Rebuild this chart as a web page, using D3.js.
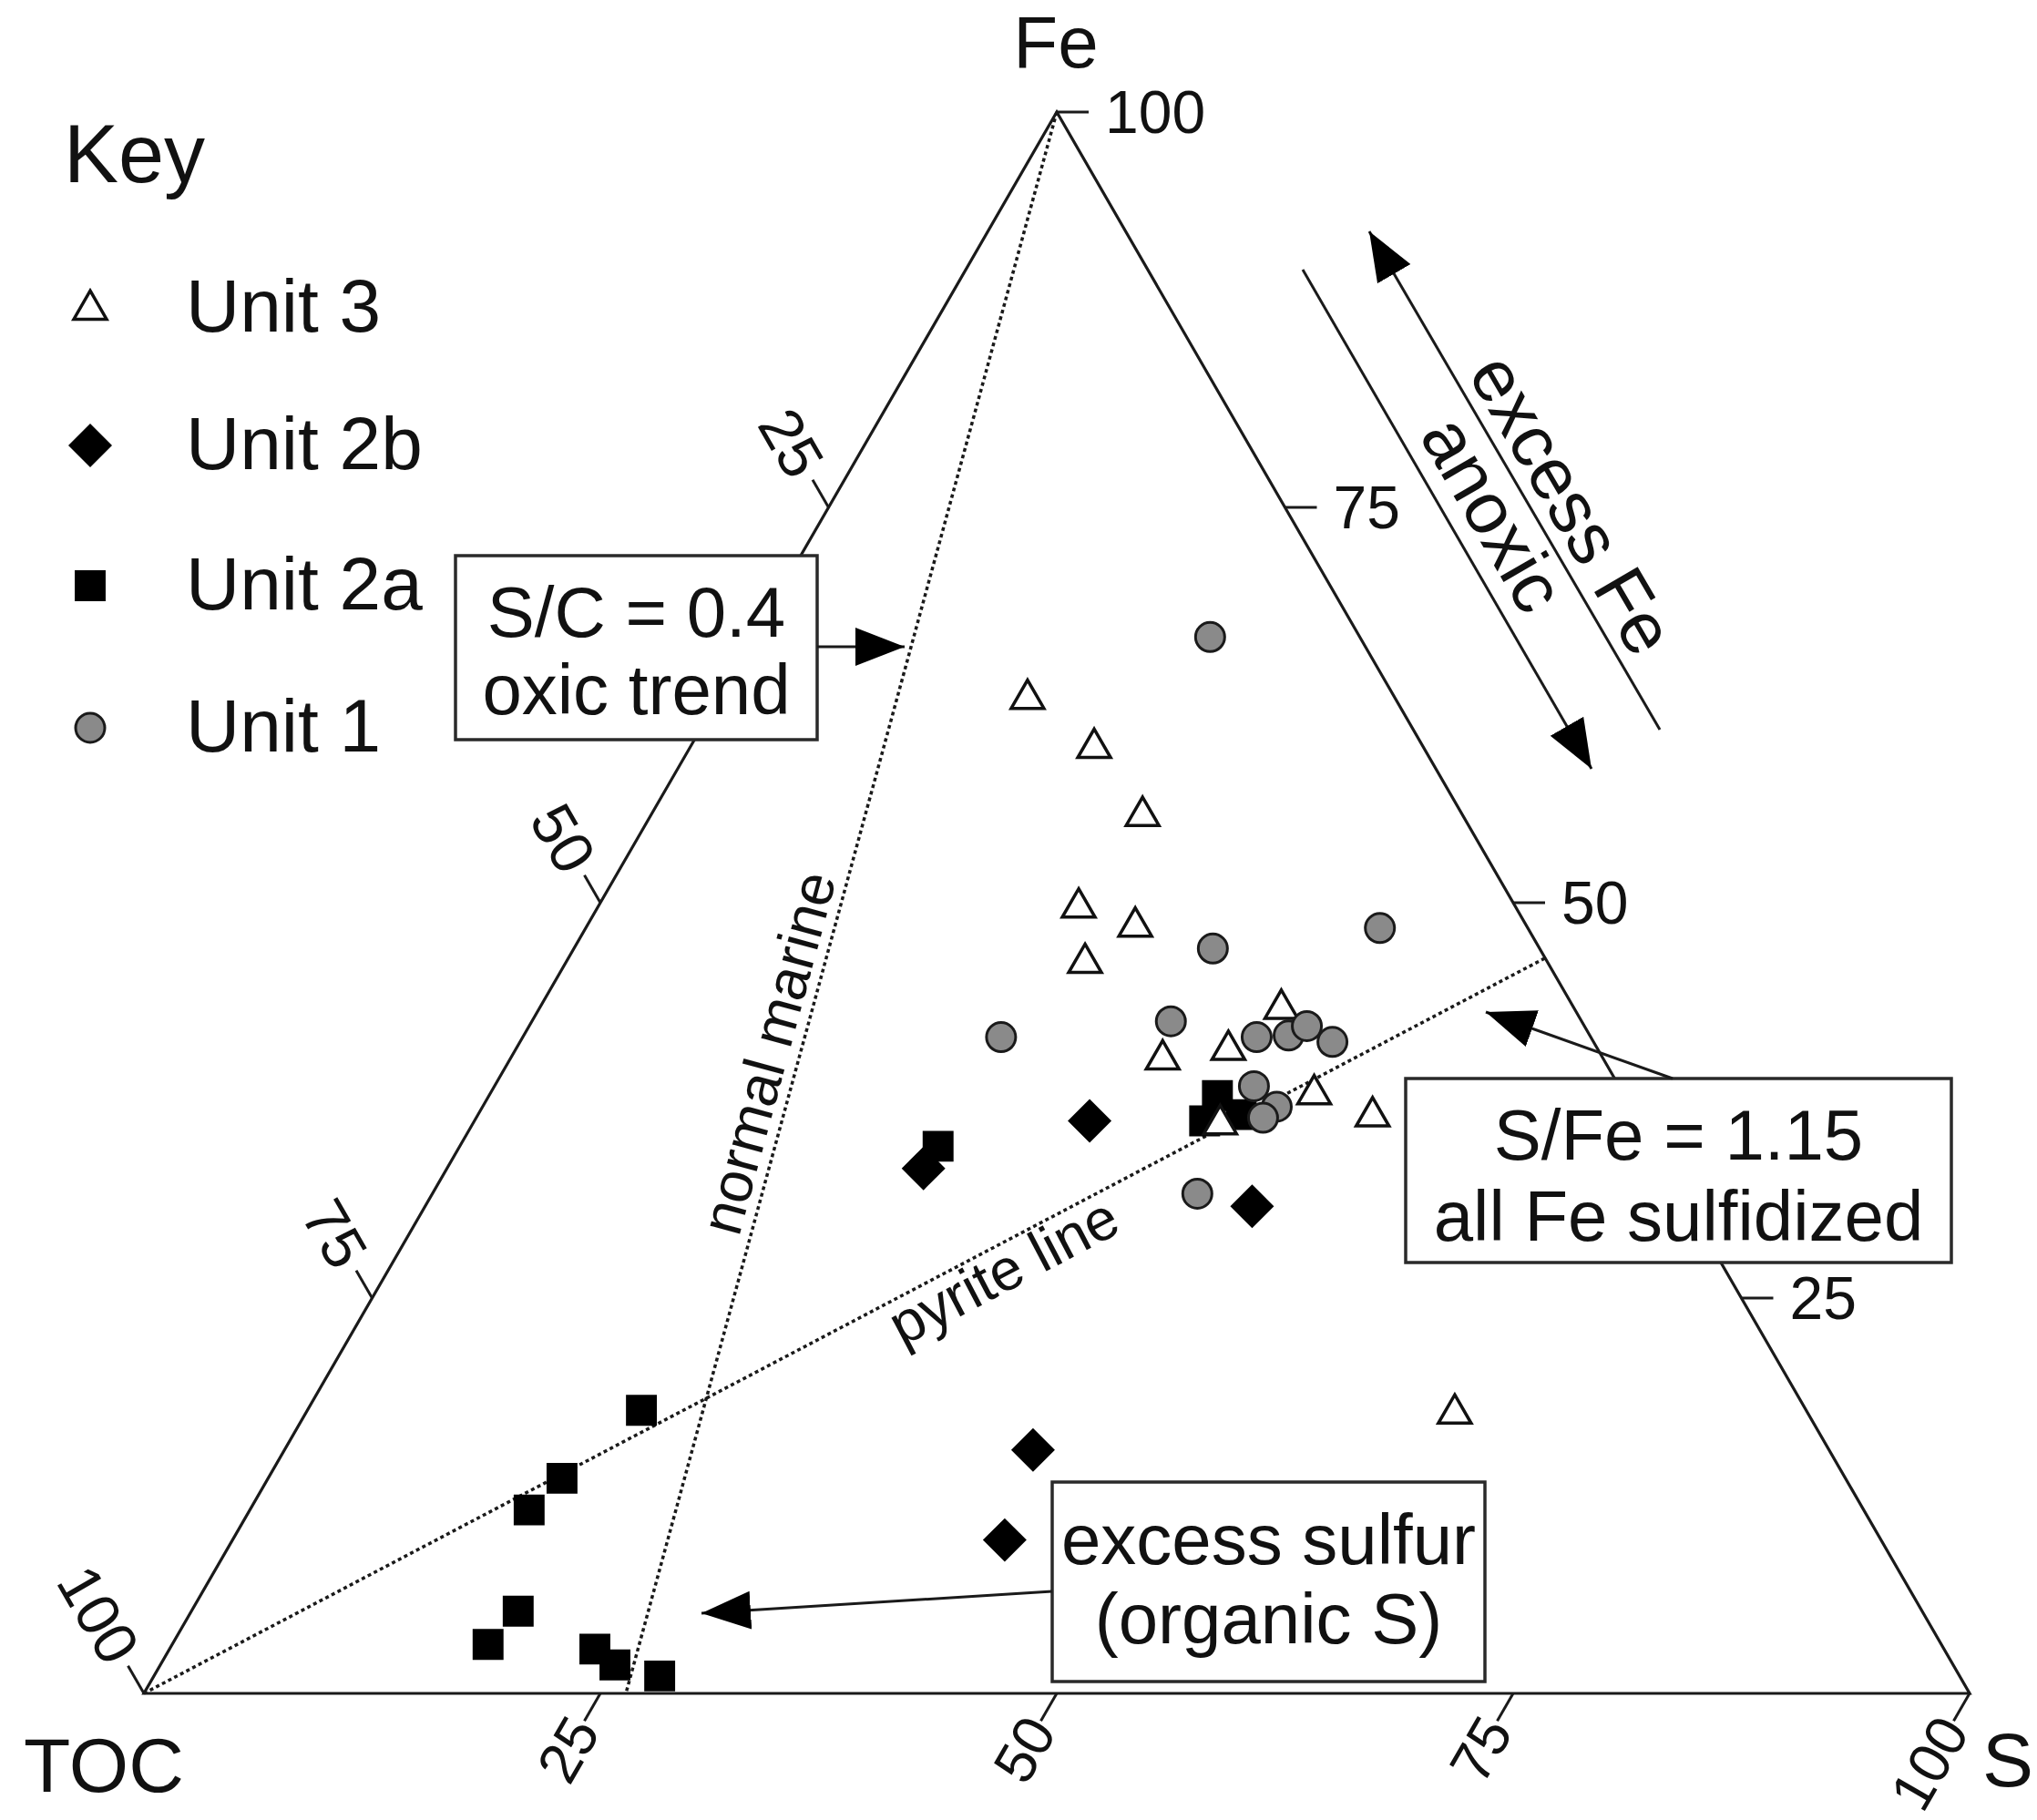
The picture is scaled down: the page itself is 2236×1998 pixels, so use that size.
<!DOCTYPE html>
<html><head><meta charset="utf-8">
<script src="https://cdn.jsdelivr.net/npm/d3@7"></script>
<style>
body{margin:0;background:#fff}
svg{display:block}
text{font-family:"Liberation Sans",Arial,Helvetica,sans-serif;fill:#111}
</style>
</head><body>
<svg id="chart" width="2236" height="1998"></svg>
<script>
// ---- data: compositions as [TOC, S, Fe] in percent ----
const unit3 = [[20.1,16.9,63.0],[18.0,22.1,59.9],[17.5,26.9,55.6],[23.9,26.3,49.8],[21.4,30.0,48.6],
  [25.3,28.4,46.3],[16.0,40.6,43.4],[24.1,35.7,40.2],[20.2,39.0,40.8],[16.9,45.1,38.0],
  [14.4,49.0,36.6],[23.0,40.9,36.1],[19.3,62.9,17.8]];
const unit2b = [[30.1,33.7,36.2],[23.9,45.3,30.8],[43.6,41.0,15.4],[48.0,42.3,9.7],[40.7,26.1,33.2]];
const unit2a = [[63.8,18.3,17.9],[70.3,16.1,13.6],[73.1,15.3,11.6],[76.9,17.9,5.2],[79.6,17.3,3.1],
  [73.9,23.3,2.8],[73.3,24.9,1.8],[71.2,27.7,1.1],[39.2,26.2,34.6],[22.3,39.9,37.8],
  [23.8,40.0,36.2],[21.6,41.8,36.6]];
const unit1 = [[8.2,25.0,66.8],[8.1,43.5,48.4],[17.9,35.0,47.1],[32.3,26.2,41.5],[22.5,35.0,42.5],
  [18.3,40.2,41.5],[16.5,41.9,41.6],[15.2,42.6,42.2],[14.3,44.5,41.2],[20.0,41.6,38.4],
  [19.4,43.5,37.1],[20.5,43.1,36.4],[26.5,41.9,31.6]];
const pyriteLine = [[100,0,0],[0,53.5,46.5]];      // S/Fe = 1.15
const normalMarine = [[0,0,100],[73.6,26.4,0]];    // S/C = 0.4
const tickValues = [25,50,75,100];
const vertexLabels = ["TOC","S","Fe"];
const legendItems = ["Unit 3","Unit 2b","Unit 2a","Unit 1"];

// ---- scales (ternary projection) ----
const X0 = 158, X1 = 2162, Y0 = 1859, Y1 = 123;
const sx = d3.scaleLinear().domain([0,100]).range([X0,X1]);
const sy = d3.scaleLinear().domain([0,100]).range([Y0,Y1]);
function proj(d){
  const tot = d[0]+d[1]+d[2];
  const s = d[1]/tot*100, f = d[2]/tot*100;
  return [sx(s + f/2), sy(f)];
}

const svg = d3.select("#chart");
const ink = "#1a1a1a";

// triangle frame
const corners = [[100,0,0],[0,100,0],[0,0,100]].map(proj);
svg.append("path").attr("d", d3.line()(corners)+"Z")
  .attr("fill","none").attr("stroke",ink).attr("stroke-width",3.2).attr("stroke-linejoin","miter");

// ticks and labels
const T = 35;
const axes = [
  {pt:v=>[100-v,v,0], dir:[-0.5,0.866], rot:-60, anchor:"end", gap:1},   // S along bottom
  {pt:v=>[0,100-v,v], dir:[1,0], rot:0, anchor:"start", gap:18},         // Fe along right
  {pt:v=>[v,0,100-v], dir:[-0.5,-0.866], rot:60, anchor:"end", gap:10}   // TOC along left
];
axes.forEach(ax=>{
  tickValues.forEach(v=>{
    const p = proj(ax.pt(v));
    const e = [p[0]+ax.dir[0]*T, p[1]+ax.dir[1]*T];
    svg.append("line").attr("x1",p[0]).attr("y1",p[1]).attr("x2",e[0]).attr("y2",e[1])
      .attr("stroke",ink).attr("stroke-width",3);
    const lp = [e[0]+ax.dir[0]*ax.gap, e[1]+ax.dir[1]*ax.gap];
    svg.append("text").attr("transform",`translate(${lp[0]},${lp[1]}) rotate(${ax.rot})`)
      .attr("text-anchor",ax.anchor).attr("dominant-baseline","central")
      .attr("font-size",ax.rot<0 ? 63 : 66).text(v);
  });
});

// vertex labels
svg.append("text").attr("x",26).attr("y",1967).attr("font-size",84).text(vertexLabels[0]);
svg.append("text").attr("x",2176).attr("y",1961).attr("font-size",84).text(vertexLabels[1]);
svg.append("text").attr("x",1159).attr("y",74).attr("text-anchor","middle").attr("font-size",80).text(vertexLabels[2]);

// reference lines
function refLine(data){
  const a = proj(data[0]), b = proj(data[1]);
  svg.append("line").attr("x1",a[0]).attr("y1",a[1]).attr("x2",b[0]).attr("y2",b[1])
    .attr("stroke",ink).attr("stroke-width",3.5).attr("stroke-dasharray","4,3.5");
  return [a,b];
}
function alongText(a,b,frac,off,txt,size){
  const ang = Math.atan2(b[1]-a[1], b[0]-a[0])*180/Math.PI;
  const p = [a[0]+(b[0]-a[0])*frac, a[1]+(b[1]-a[1])*frac];
  svg.append("text").attr("transform",`translate(${p[0]},${p[1]}) rotate(${ang})`)
    .attr("y",off).attr("text-anchor","middle").attr("font-size",size).text(txt);
}
const pl = refLine(pyriteLine);
const nm = refLine(normalMarine);
alongText(pl[0],pl[1],0.605,50,"pyrite line",64);
alongText(nm[1],nm[0],0.40,-12,"normal marine",64);

// markers
const tri = d3.symbol().type(d3.symbolTriangle).size(560);
const sq = d3.symbol().type(d3.symbolSquare).size(1150);
function drawMarks(data, kind){
  const g = svg.append("g");
  data.forEach(d=>{
    const p = proj(d);
    addMark(g, p, kind);
  });
}
function addMark(g,p,kind){
  if(kind==="diamond"){
    g.append("path").attr("d",sq()).attr("transform",`translate(${p[0]},${p[1]}) rotate(45)`).attr("fill","#000");
  } else if(kind==="square"){
    g.append("path").attr("d",sq()).attr("transform",`translate(${p[0]},${p[1]})`).attr("fill","#000");
  } else if(kind==="triangle"){
    g.append("path").attr("d",tri()).attr("transform",`translate(${p[0]},${p[1]+2})`)
      .attr("fill","#fff").attr("stroke","#111").attr("stroke-width",3.5).attr("stroke-linejoin","miter");
  } else {
    g.append("circle").attr("cx",p[0]).attr("cy",p[1]).attr("r",16)
      .attr("fill","#8a8a8a").attr("stroke","#1a1a1a").attr("stroke-width",3);
  }
}
drawMarks(unit2b,"diamond");
drawMarks(unit2a,"square");
drawMarks(unit3,"triangle");
drawMarks(unit1,"circle");

// arrowhead marker
const defs = svg.append("defs");
defs.append("marker").attr("id","ah").attr("viewBox","-54 -22 54 44")
  .attr("refX",0).attr("refY",0).attr("markerWidth",54).attr("markerHeight",44)
  .attr("markerUnits","userSpaceOnUse").attr("orient","auto-start-reverse")
  .append("path").attr("d","M0,0L-54,-21L-54,21Z").attr("fill","#000");

function arrow(x1,y1,x2,y2,start,end){
  const l = svg.append("line").attr("x1",x1).attr("y1",y1).attr("x2",x2).attr("y2",y2)
    .attr("stroke",ink).attr("stroke-width",3);
  if(start) l.attr("marker-start","url(#ah)");
  if(end) l.attr("marker-end","url(#ah)");
}

// annotation boxes
function box(x,y,w,h,lines,baselines){
  svg.append("rect").attr("x",x).attr("y",y).attr("width",w).attr("height",h)
    .attr("fill","#fff").attr("stroke","#2a2a2a").attr("stroke-width",3.5);
  lines.forEach((t,i)=>svg.append("text").attr("x",x+w/2).attr("y",baselines[i])
    .attr("text-anchor","middle").attr("font-size",78).text(t));
}
box(500,610,397,202,["S/C = 0.4","oxic trend"],[699,784]);
arrow(897,710,993,710,false,true);
box(1543,1184,599,202,["S/Fe = 1.15","all Fe sulfidized"],[1273,1362]);
arrow(1836,1184,1631,1111,false,true);
box(1155,1627,475,219,["excess sulfur","(organic S)"],[1717,1804]);
arrow(1155,1747,770,1771,false,true);

// anoxic / excess Fe arrows
arrow(1430,296,1747,844,false,true);
arrow(1503,254,1822,801,true,false);
function segText(a,b,dist,off,txt,size){
  const L = Math.hypot(b[0]-a[0],b[1]-a[1]);
  const ux=(b[0]-a[0])/L, uy=(b[1]-a[1])/L;
  const ang = Math.atan2(uy,ux)*180/Math.PI;
  svg.append("text").attr("transform",`translate(${a[0]+ux*dist},${a[1]+uy*dist}) rotate(${ang})`)
    .attr("y",off).attr("text-anchor","middle").attr("font-size",size).text(txt);
}
segText([1503,254],[1822,801],371,-14,"excess Fe",80);
segText([1430,296],[1747,844],337,-19,"anoxic",80);

// legend
svg.append("text").attr("x",70).attr("y",200).attr("font-size",90).text("Key");
const kinds = ["triangle","diamond","square","circle"];
const legY = [338,489,643,799];
const lg = svg.append("g");
legendItems.forEach((t,i)=>{
  addMark(lg,[99,legY[i]],kinds[i]);
  svg.append("text").attr("x",204).attr("y",legY[i]+26).attr("font-size",82).text(t);
});
</script>
</body></html>
